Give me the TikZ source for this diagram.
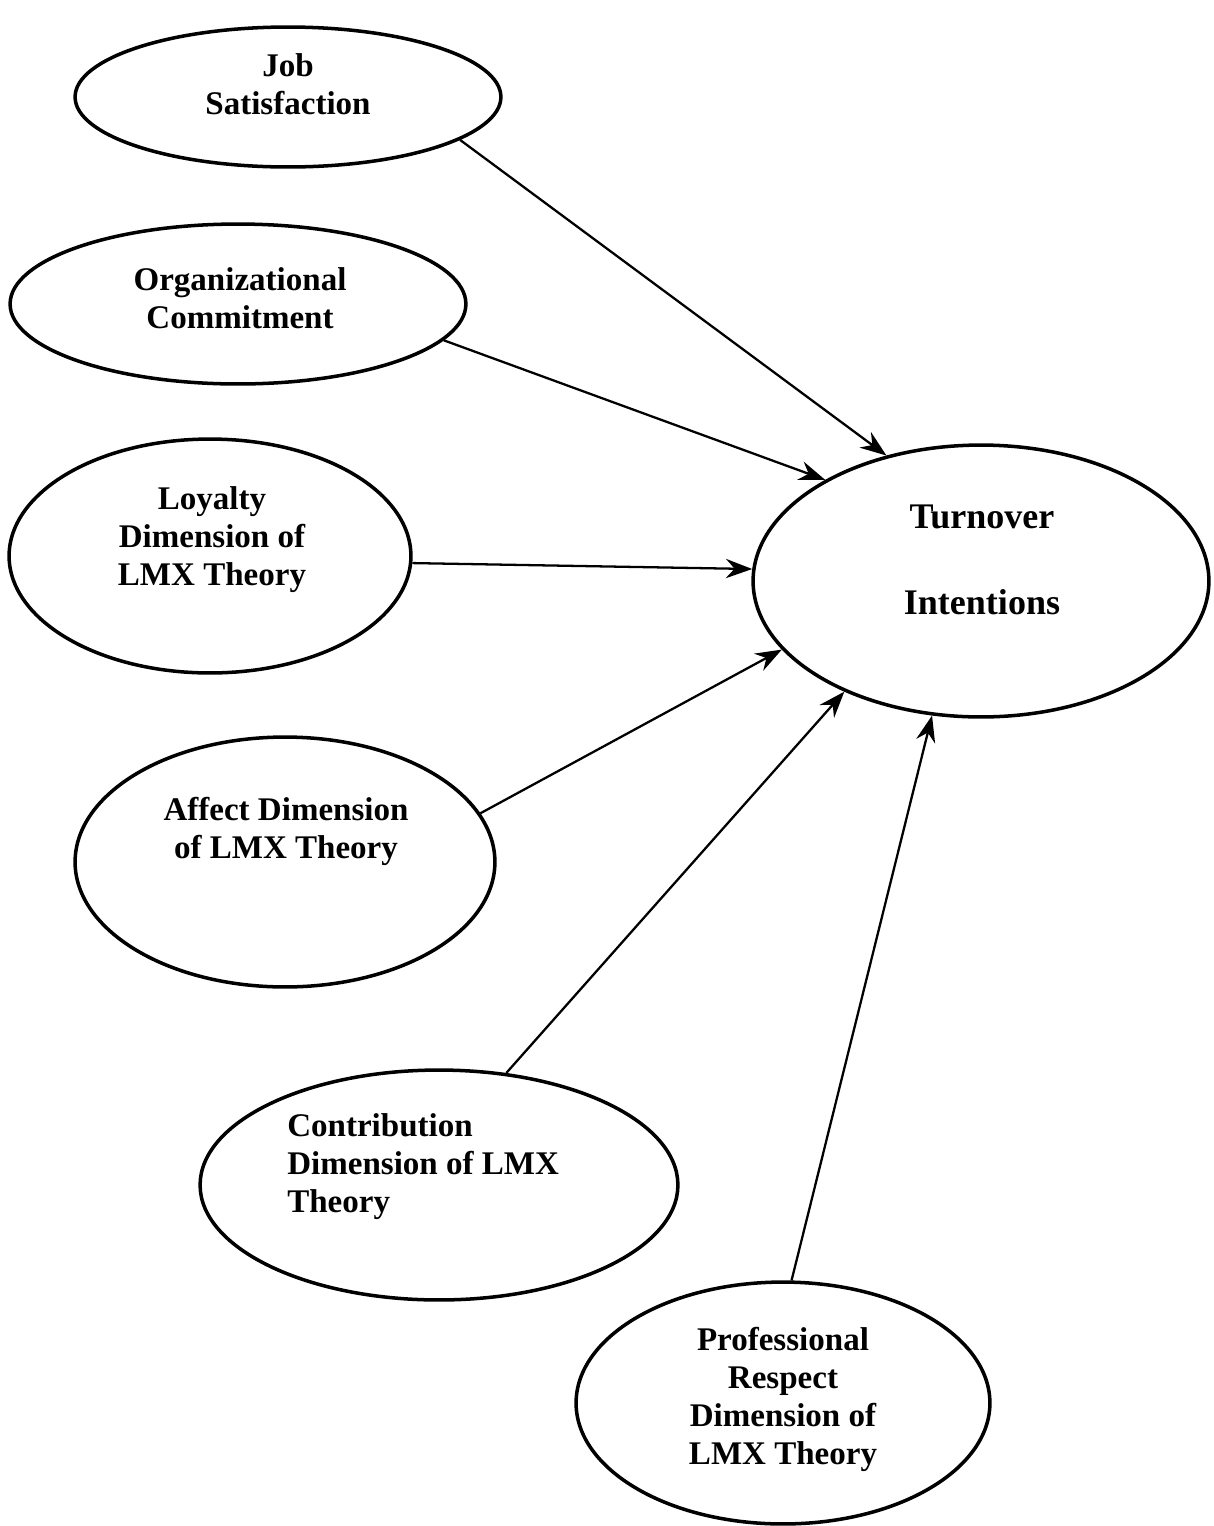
\documentclass[tikz,border=0pt]{standalone}
\usepackage{fontspec}
\setmainfont{Liberation Serif}
\usetikzlibrary{positioning,shapes.geometric,arrows.meta}

\begin{document}
\begin{tikzpicture}
            [x=0.02cm, y=-0.02cm,
             oval/.style 2 args={ellipse, draw, line width=2pt, inner sep=0pt,
               minimum width={#1*0.04cm}, minimum height={#2*0.04cm}},
             lbl/.style={font=\bfseries\fontsize{18.8}{21.6}\selectfont, align=center, inner sep=0pt},
             biglbl/.style={font=\bfseries\fontsize{20.5}{49}\selectfont, align=center, inner sep=0pt},
             link/.style={->, line width=1.3pt},
             >={Stealth[length=15pt,width=11pt,inset=5pt]}]

            \useasboundingbox (0,0) rectangle (1214,1526);

            \node[oval={213}{70}] (js) at (288,97) {};
            \node[oval={228}{80}] (oc) at (238,304) {};
            \node[oval={201}{117}] (lo) at (210,556) {};
            \node[oval={210}{125}] (af) at (285,862) {};
            \node[oval={239}{115}] (co) at (439,1185) {};
            \node[oval={207}{121}] (pr) at (783,1403) {};
            \node[oval={228}{136}] (ti) at (981,581) {};

            \node[lbl] (jsT) at (288,84) {Job\\Satisfaction};
            \node[lbl] (ocT) at (240,298) {Organizational\\Commitment};
            \node[lbl] (loT) at (212,540) {Loyalty\\Dimension of\\LMX Theory};
            \node[lbl] (afT) at (286,831) {Affect Dimension\\of LMX Theory};
            \node[lbl, align=left, anchor=west] (coT) at (287,1167) {Contribution\\Dimension of LMX\\Theory};
            \node[lbl] (prT) at (783,1399) {Professional\\Respect\\Dimension of\\LMX Theory};
            \node[biglbl] (tiT) at (982,560) {Turnover\\Intentions};

            \draw[link] (js.-14) -- (ti.127);
            \draw[link] (oc.-10) -- (ti.147);
            \draw[link] (lo.-2) -- (ti.177.5);
            \draw[link] (af.14) -- (ti.-161);
            \draw[link] (co.59) -- (ti.-141);
            \draw[link] (pr.86) -- (ti.-110);
\end{tikzpicture}
\end{document}
